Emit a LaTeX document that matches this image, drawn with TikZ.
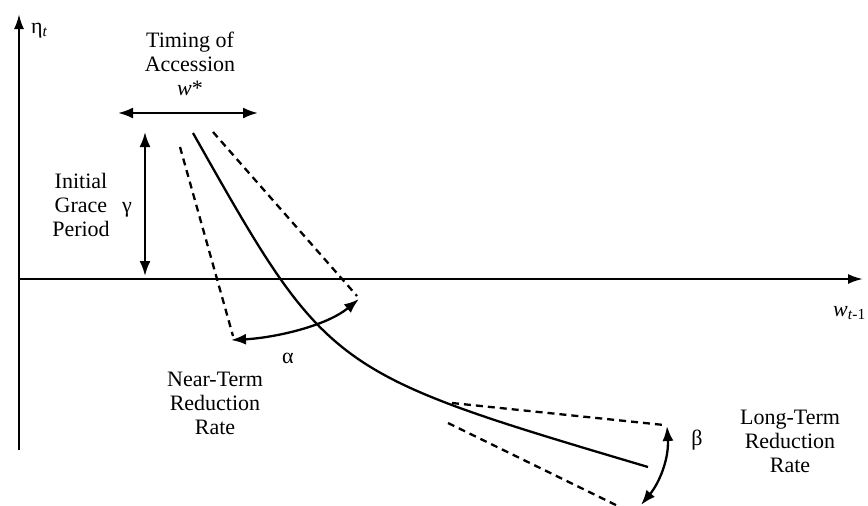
\documentclass[tikz,border=0pt]{standalone}
\usepackage{fontspec}
\setmainfont{Liberation Serif}
\usetikzlibrary{arrows.meta}
\begin{document}
\begin{tikzpicture}[x=1pt,y=-1pt,
  lbl/.style={inner sep=0pt,align=center,font=\fontsize{22}{24}\selectfont},
  axis/.style={line width=2.3pt,-{Latex[length=15pt,width=10pt]}},
  dbl/.style={line width=2.3pt,{Latex[length=15pt,width=11pt]}-{Latex[length=15pt,width=11pt]}},
  dsh/.style={line width=2.3pt,dash pattern=on 7pt off 5pt},
  crv/.style={line width=2.3pt}]
\useasboundingbox (0,0) rectangle (868,506);
% coordinates
\coordinate (O) at (19,279);
\coordinate (Ybot) at (19,450);
\coordinate (Ytop) at (19,14);
\coordinate (Xend) at (863,279);
\coordinate (Hl) at (118,113);
\coordinate (Hr) at (258,113);
\coordinate (Vt) at (145,132);
\coordinate (Vb) at (145,276);
\coordinate (C0) at (193,133);
\coordinate (C1) at (648,467);
\coordinate (N1a) at (180,147);
\coordinate (N1b) at (233,336);
\coordinate (N2a) at (213,132);
\coordinate (N2b) at (357,296);
\coordinate (L1a) at (452,403);
\coordinate (L1b) at (664,425);
\coordinate (L2a) at (448,423);
\coordinate (L2b) at (622,508);
\coordinate (Aa) at (231,340);
\coordinate (Ab) at (359,299);
\coordinate (Ba) at (667,426);
\coordinate (Bb) at (641,505);
% axes
\draw[axis] (Ybot) -- (Ytop);
\draw[axis] (O) -- (Xend);
\node[lbl,anchor=west] (eta) at (31,31) {η\textsubscript{\textit{t}}};
\node[lbl,anchor=east] (wt) at (866,313) {\textit{w}\textsubscript{\textit{t}-1}};
% timing
\node[lbl] (timing) at (190,64) {Timing of\\Accession\\\textit{w}*};
\draw[dbl] (Hl) -- (Hr);
% grace
\draw[dbl] (Vt) -- (Vb);
\node[lbl] (grace) at (81,205) {Initial\\Grace\\Period};
\node[lbl] (gamma) at (127,210) {γ};
% main curve
\draw[crv] (C0) .. controls (328,372) and (328,372) .. (C1);
% near-term
\draw[dsh] (N1a) -- (N1b);
\draw[dsh] (N2a) -- (N2b);
\draw[dbl] (Aa) .. controls (272,338) and (325,327) .. (Ab);
\node[lbl] (alpha) at (288,358) {α};
\node[lbl] (near) at (215,403) {Near-Term\\Reduction\\Rate};
% long-term
\draw[dsh] (L1a) -- (L1b);
\draw[dsh] (L2a) -- (L2b);
\draw[dbl] (Ba) .. controls (669,458) and (660,482) .. (Bb);
\node[lbl] (beta) at (697,440) {β};
\node[lbl] (long) at (790,441) {Long-Term\\Reduction\\Rate};
\end{tikzpicture}
\end{document}
